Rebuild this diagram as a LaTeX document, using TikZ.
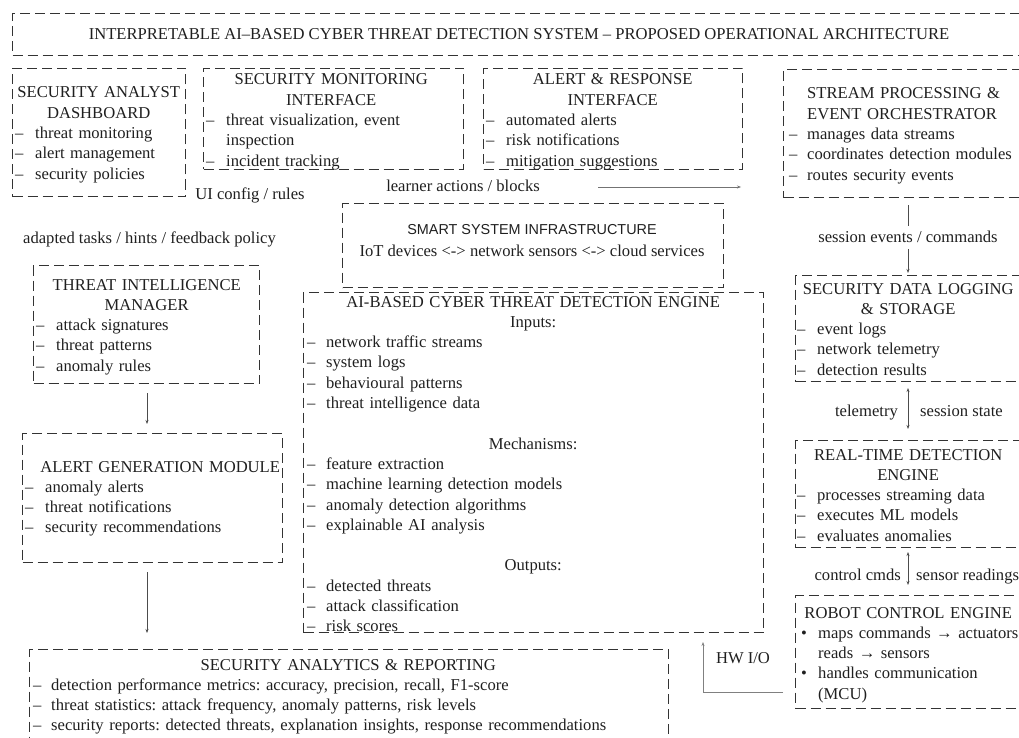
\documentclass[tikz,border=0pt]{standalone}
\usepackage{fontspec}
\setmainfont{Liberation Serif}
\newfontfamily\sansf{Liberation Sans}
\usetikzlibrary{arrows.meta}
\newcommand\fs{\fontsize{16.6}{20.3}\selectfont\frenchspacing}
\newcommand\itm[2][20pt]{\par\noindent\makebox[#1][l]{–}#2}
\newcommand\cnt[2][20pt]{\par\noindent\hspace*{#1}#2}
\newcommand\bul[1]{\par\noindent\makebox[21pt][l]{\hspace{4pt}•}#1}
\newcommand\blank{\par\noindent\strut}
\tikzset{
  box/.style={draw=black!80, dash pattern=on 10pt off 5pt, line width=1pt, inner sep=0pt, anchor=north west},
  blk/.style={anchor=base west, inner sep=0pt, text width=#1, align=left, font=\fs, text=black!88},
  lbl/.style={inner sep=0pt, font=\fs, text=black!88},
  conn/.style={draw=black!70, line width=0.6pt},
  arr/.style={conn, -{Stealth[length=4pt,width=3pt]}},
}
\begin{document}
\begin{tikzpicture}[x=1pt,y=-1pt]
\useasboundingbox (0,0) rectangle (1019,738);
\clip (0,0) rectangle (1019,738);
% boxes
\node[box, minimum width=1030pt, minimum height=42pt] (titlebox) at (12,13) {};
\node[box, minimum width=173pt, minimum height=128pt] (dashbox) at (12,68) {};
\node[box, minimum width=260pt, minimum height=101pt] (monbox) at (203,68) {};
\node[box, minimum width=259pt, minimum height=101pt] (alertbox) at (483,68) {};
\node[box, minimum width=250pt, minimum height=128pt] (streambox) at (783,69) {};
\node[box, minimum width=381pt, minimum height=84pt] (smartbox) at (342,203) {};
\node[box, minimum width=226pt, minimum height=118pt] (timbox) at (33,265) {};
\node[box, minimum width=260pt, minimum height=129pt] (agmbox) at (22,433) {};
\node[box, minimum width=460pt, minimum height=340pt] (aibox) at (303,292) {};
\node[box, minimum width=240pt, minimum height=106pt] (logbox) at (795,275) {};
\node[box, minimum width=240pt, minimum height=107pt] (rtbox) at (795,440) {};
\node[box, minimum width=240pt, minimum height=113pt] (robbox) at (795,595) {};
\node[box, minimum width=639pt, minimum height=120pt] (anbox) at (29,649) {};
% title
\node[lbl, anchor=base] (title) at (519,40) {INTERPRETABLE AI–BASED CYBER THREAT DETECTION SYSTEM – PROPOSED OPERATIONAL ARCHITECTURE};
% texts
\node[blk=167pt] (dashtxt) at (15,98) {{\centering SECURITY ANALYST\\DASHBOARD\par}\itm{threat monitoring}\itm{alert management}\itm{security policies}};
\node[blk=250pt] (montxt) at (206,85) {{\centering SECURITY MONITORING\\INTERFACE\par}\itm{threat visualization, event}\cnt{inspection}\itm{incident tracking}};
\node[blk=253pt] (alerttxt) at (486,85) {{\centering ALERT \& RESPONSE\\INTERFACE\par}\itm{automated alerts}\itm{risk notifications}\itm{mitigation suggestions}};
\node[blk=240pt] (streamtxt) at (789,99) {\hspace*{18pt}STREAM PROCESSING \&\cnt[18pt]{EVENT ORCHESTRATOR}\itm[18pt]{manages data streams}\itm[18pt]{coordinates detection modules}\itm[18pt]{routes security events}};
\node[lbl, anchor=base, font=\sansf\fontsize{14.4}{16}\selectfont] (smarttitle) at (532,234) {SMART SYSTEM INFRASTRUCTURE};
\node[lbl, anchor=base] (smarttxt) at (532,256) {IoT devices <-> network sensors <-> cloud services};
\node[blk=221pt] (timtxt) at (36,290) {{\centering THREAT INTELLIGENCE\\MANAGER\par}\itm{attack signatures}\itm{threat patterns}\itm{anomaly rules}};
\node[blk=270pt] (agmtxt) at (25,472) {{\centering ALERT GENERATION MODULE\par}\itm{anomaly alerts}\itm{threat notifications}\itm{security recommendations}};
\node[blk=452pt] (aitxt) at (307,307) {{\centering AI-BASED CYBER THREAT DETECTION ENGINE\\Inputs:\par}\itm[19pt]{network traffic streams}\itm[19pt]{system logs}\itm[19pt]{behavioural patterns}\itm[19pt]{threat intelligence data}\blank{\centering\par Mechanisms:\par}\itm[19pt]{feature extraction}\itm[19pt]{machine learning detection models}\itm[19pt]{anomaly detection algorithms}\itm[19pt]{explainable AI analysis}\blank{\centering\par Outputs:\par}\itm[19pt]{detected threats}\itm[19pt]{attack classification}\itm[19pt]{risk scores}};
\node[blk=222pt] (logtxt) at (797,294) {{\centering SECURITY DATA LOGGING\\\& STORAGE\par}\itm{event logs}\itm{network telemetry}\itm{detection results}};
\node[blk=222pt] (rttxt) at (797,460) {{\centering REAL-TIME DETECTION\\ENGINE\par}\itm{processes streaming data}\itm{executes ML models}\itm{evaluates anomalies}};
\node[blk=222pt] (robtxt) at (797,618) {{\centering ROBOT CONTROL ENGINE\par}\bul{maps commands → actuators}\cnt[21pt]{reads → sensors}\bul{handles communication}\cnt[21pt]{(MCU)}};
\node[blk=630pt] (antxt) at (33,670) {{\centering SECURITY ANALYTICS \& REPORTING\par}\itm[18pt]{detection performance metrics: accuracy, precision, recall, F1-score}\itm[18pt]{threat statistics: attack frequency, anomaly patterns, risk levels}\itm[18pt]{security reports: detected threats, explanation insights, response recommendations}};
% free labels
\node[lbl, anchor=base] (uicfg) at (250,200) {UI config / rules};
\node[lbl, anchor=base] (learner) at (463,191) {learner actions / blocks};
\node[lbl, anchor=base east] (adapted) at (276,243) {adapted tasks / hints / feedback policy};
\node[lbl, anchor=base] (sess) at (908,242) {session events / commands};
\node[lbl, anchor=base east] (telem) at (898,416) {telemetry};
\node[lbl, anchor=base west] (sstate) at (920,416) {session state};
\node[lbl, anchor=base east] (ctrl) at (901,580) {control cmds};
\node[lbl, anchor=base west] (sensr) at (916,580) {sensor readings};
\node[lbl, anchor=base] (hwio) at (743,663) {HW I/O};
% connector end points
\coordinate (la1) at (598,187);
\coordinate (la2) at (741,187);
\coordinate (s1) at (908,205);
\coordinate (s2) at (908,226);
\coordinate (s3) at (908,249);
\coordinate (s4) at (908,273);
\coordinate (t1) at (147,393);
\coordinate (t2) at (147,424);
\coordinate (a1) at (147,572);
\coordinate (a2) at (147,633);
\coordinate (l1) at (908,388);
\coordinate (l2) at (908,429);
\coordinate (r1) at (908,552);
\coordinate (r2) at (908,585);
\coordinate (h1) at (783,692);
\coordinate (h2) at (703,692);
\coordinate (h3) at (703,642);
% connectors
\draw[arr, draw=black!55] (la1) -- (la2);
\draw[conn] (s1) -- (s2);
\draw[arr] (s3) -- (s4);
\draw[arr] (t1) -- (t2);
\draw[arr] (a1) -- (a2);
\draw[conn, {Stealth[length=4pt,width=3pt]}-{Stealth[length=4pt,width=3pt]}] (l1) -- (l2);
\draw[conn, {Stealth[length=4pt,width=3pt]}-{Stealth[length=4pt,width=3pt]}] (r1) -- (r2);
\draw[arr, draw=black!50] (h1) -- (h2) -- (h3);
\end{tikzpicture}
\end{document}
